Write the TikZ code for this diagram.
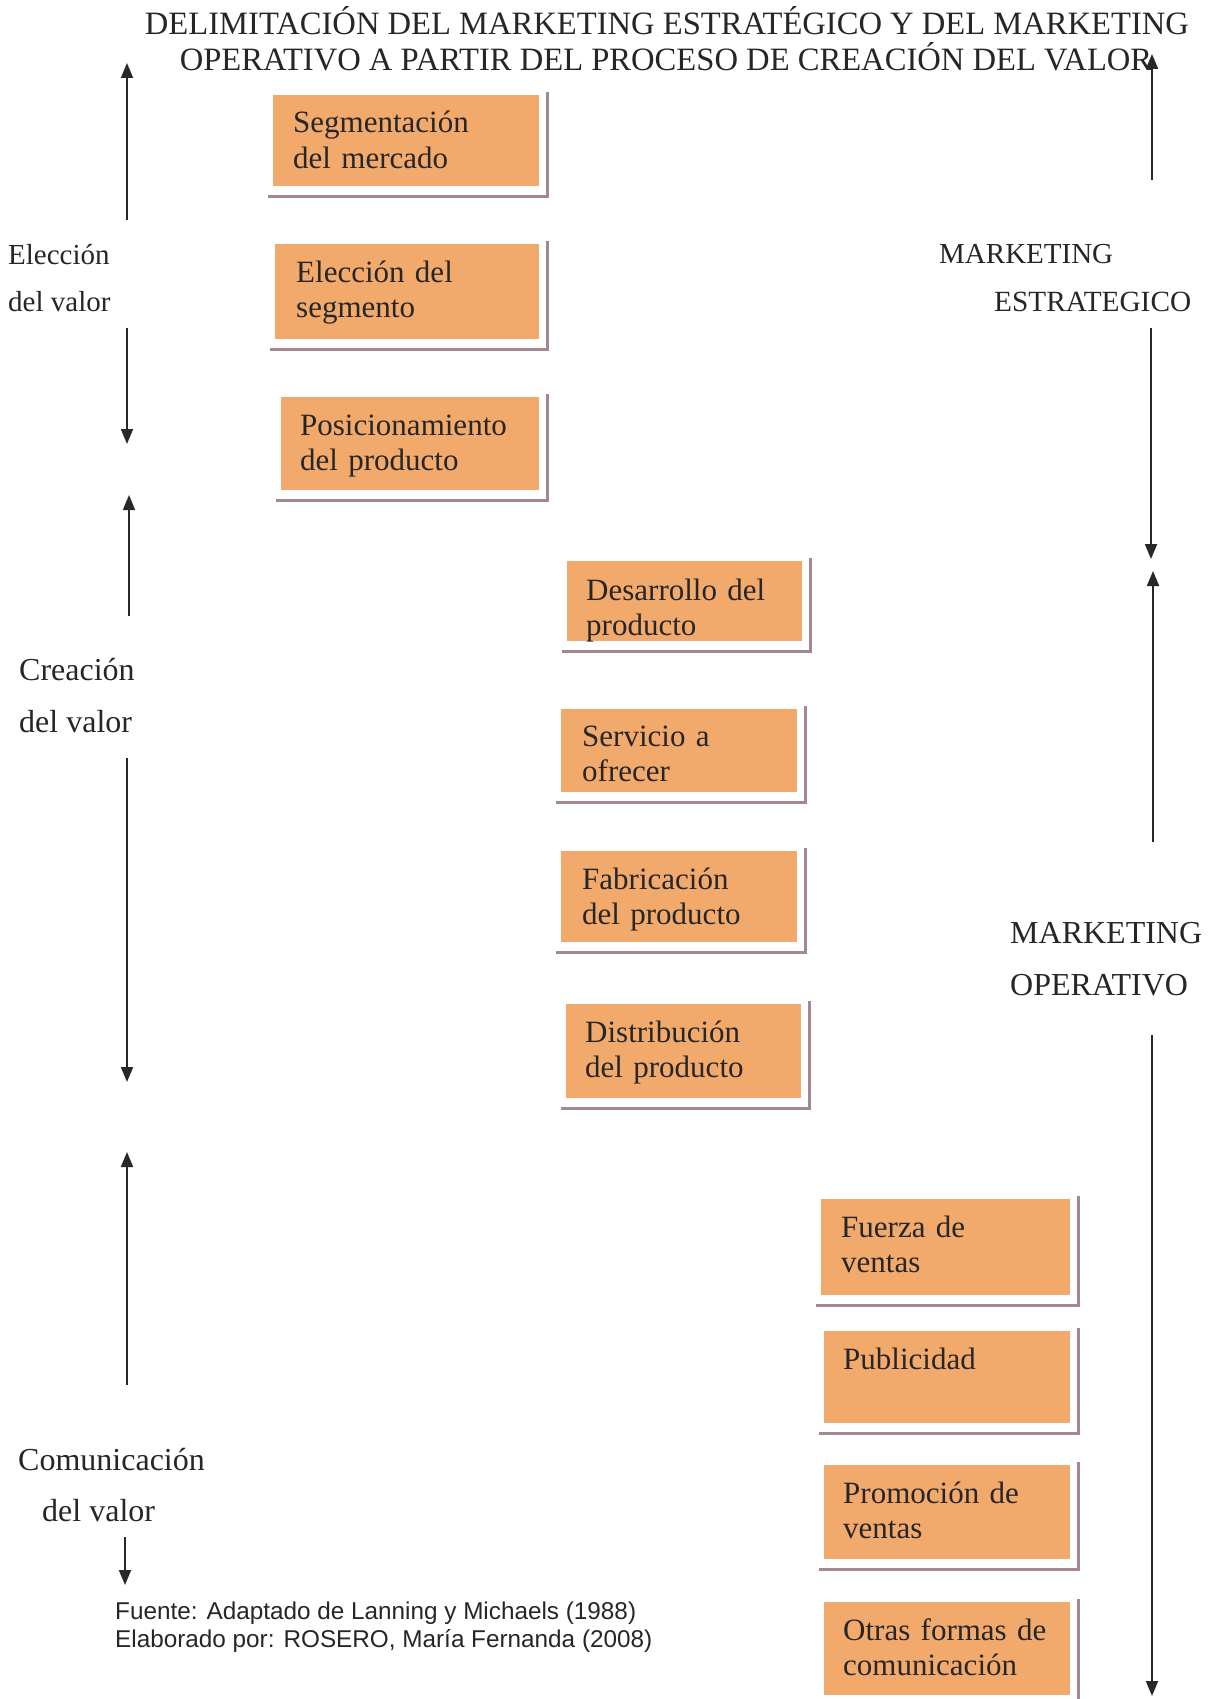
\documentclass[tikz,border=0pt]{standalone}
\usepackage{fontspec}
\setmainfont{Liberation Serif}
\newfontfamily\footfont{Liberation Sans}
\usetikzlibrary{arrows.meta,calc}
\definecolor{boxfill}{RGB}{242,170,108}
\definecolor{shade}{RGB}{165,135,145}
\definecolor{ink}{RGB}{38,38,38}
\definecolor{lineink}{RGB}{40,40,40}
\begin{document}
\begin{tikzpicture}[x=1pt,y=-1pt,
  obox/.style={fill=boxfill,draw=none,inner sep=0pt,anchor=north west},
  btext/.style={anchor=base west,inner sep=0pt,text=ink,align=left,
    font=\fontsize{31}{35.5}\selectfont,text width=#1},
  lbl/.style={anchor=base west,inner sep=0pt,text=ink},
  ttl/.style={anchor=base,inner sep=0pt,text=ink,font=\fontsize{32.6}{36}\selectfont},
  shadowline/.style={draw=shade,line width=2.3pt},
  arr/.style={draw=lineink,line width=1.9pt,-{Triangle[length=15pt,width=12pt]}}
]
\useasboundingbox[fill=white] (0,0) rectangle (1214,1699);

% Title
\node[ttl] (title1) at (667,35) {DELIMITACIÓN DEL MARKETING ESTRATÉGICO Y DEL MARKETING};
\node[ttl] (title2) at (666,71) {OPERATIVO A PARTIR DEL PROCESO DE CREACIÓN DEL VALOR};

% Boxes
\node[obox,minimum width=266pt,minimum height=91pt] (b1) at (273,95) {};
\node[obox,minimum width=264pt,minimum height=95pt] (b2) at (275,244) {};
\node[obox,minimum width=258pt,minimum height=93pt] (b3) at (281,397) {};
\node[obox,minimum width=235pt,minimum height=80pt] (b4) at (567,561) {};
\node[obox,minimum width=236pt,minimum height=83pt] (b5) at (561,709) {};
\node[obox,minimum width=236pt,minimum height=91pt] (b6) at (561,851) {};
\node[obox,minimum width=235pt,minimum height=94pt] (b7) at (566,1004) {};
\node[obox,minimum width=249pt,minimum height=96pt] (b8) at (821,1199) {};
\node[obox,minimum width=246pt,minimum height=92pt] (b9) at (824,1331) {};
\node[obox,minimum width=246pt,minimum height=94pt] (b10) at (824,1465) {};
\node[obox,minimum width=246pt,minimum height=93pt] (b11) at (824,1602) {};

\foreach \b in {b1,b2,b3,b4,b5,b6,b7,b8,b9,b10,b11}{
  \draw[shadowline] ([xshift=-5pt,yshift=-10pt]\b.south west) -- ([xshift=8pt,yshift=-10pt]\b.south east)
     -- ([xshift=8pt,yshift=3pt]\b.north east);
}

% Box texts
\node[btext=240pt] (t1) at ($(b1.north west)+(20,38)$) {Segmentación\\del mercado};
\node[btext=240pt] (t2) at ($(b2.north west)+(21,38)$) {Elección del\\segmento};
\node[btext=240pt] (t3) at ($(b3.north west)+(19,38)$) {Posicionamiento\\del producto};
\begin{scope}
\clip (b4.north west) rectangle (b4.south east);
\node[btext=220pt] (t4) at ($(b4.north west)+(19,39)$) {Desarrollo del\\producto};
\end{scope}
\node[btext=220pt] (t5) at ($(b5.north west)+(21,37)$) {Servicio a\\ofrecer};
\node[btext=220pt] (t6) at ($(b6.north west)+(21,38)$) {Fabricación\\del producto};
\node[btext=220pt] (t7) at ($(b7.north west)+(19,38)$) {Distribución\\del producto};
\node[btext=230pt] (t8) at ($(b8.north west)+(20,38)$) {Fuerza de\\ventas};
\node[btext=230pt] (t9) at ($(b9.north west)+(19,38)$) {Publicidad};
\node[btext=230pt] (t10) at ($(b10.north west)+(19,38)$) {Promoción de\\ventas};
\node[btext=230pt] (t11) at ($(b11.north west)+(19,38)$) {Otras formas de\\comunicación};

% Left labels
\node[lbl,font=\fontsize{29}{34}\selectfont] (l1a) at (8,264) {Elección};
\node[lbl,font=\fontsize{29}{34}\selectfont] (l1b) at (8,311) {del valor};
\node[lbl,font=\fontsize{32}{36}\selectfont] (l2a) at (19,680) {Creación};
\node[lbl,font=\fontsize{32}{36}\selectfont] (l2b) at (19,732) {del valor};
\node[lbl,font=\fontsize{32}{36}\selectfont] (l3a) at (18,1470) {Comunicación};
\node[lbl,font=\fontsize{32}{36}\selectfont] (l3b) at (42,1521) {del valor};

% Right labels
\node[lbl,font=\fontsize{29}{34}\selectfont] (r1a) at (939,263) {MARKETING};
\node[lbl,font=\fontsize{29.3}{34}\selectfont] (r1b) at (994,311) {ESTRATEGICO};
\node[lbl,font=\fontsize{32}{36}\selectfont] (r2a) at (1010,943) {MARKETING};
\node[lbl,font=\fontsize{32}{36}\selectfont] (r2b) at (1010,995) {OPERATIVO};

% Footnote
\node[lbl,font=\footfont\fontsize{24.3}{28}\selectfont] (f1) at (115,1619) {Fuente: Adaptado de Lanning y Michaels (1988)};
\node[lbl,font=\footfont\fontsize{24.3}{28}\selectfont] (f2) at (115,1647) {Elaborado por: ROSERO, María Fernanda (2008)};

% Arrow end points
\coordinate (a1s) at (127,220);  \coordinate (a1e) at (127,63);
\coordinate (a2s) at (127,328);  \coordinate (a2e) at (127,444);
\coordinate (a3s) at (129,616);  \coordinate (a3e) at (129,495);
\coordinate (a4s) at (127,758);  \coordinate (a4e) at (127,1082);
\coordinate (a5s) at (127,1385); \coordinate (a5e) at (127,1152);
\coordinate (a6s) at (125,1537); \coordinate (a6e) at (125,1585);
\coordinate (c1s) at (1152,180); \coordinate (c1e) at (1152,54);
\coordinate (c2s) at (1151,328); \coordinate (c2e) at (1151,559);
\coordinate (c3s) at (1153,842); \coordinate (c3e) at (1153,571);
\coordinate (c4s) at (1152,1035);\coordinate (c4e) at (1152,1696);

\foreach \s/\e in {a1s/a1e,a2s/a2e,a3s/a3e,a4s/a4e,a5s/a5e,a6s/a6e,c1s/c1e,c2s/c2e,c3s/c3e,c4s/c4e}{
  \draw[arr] (\s) -- (\e);
}
\end{tikzpicture}
\end{document}
